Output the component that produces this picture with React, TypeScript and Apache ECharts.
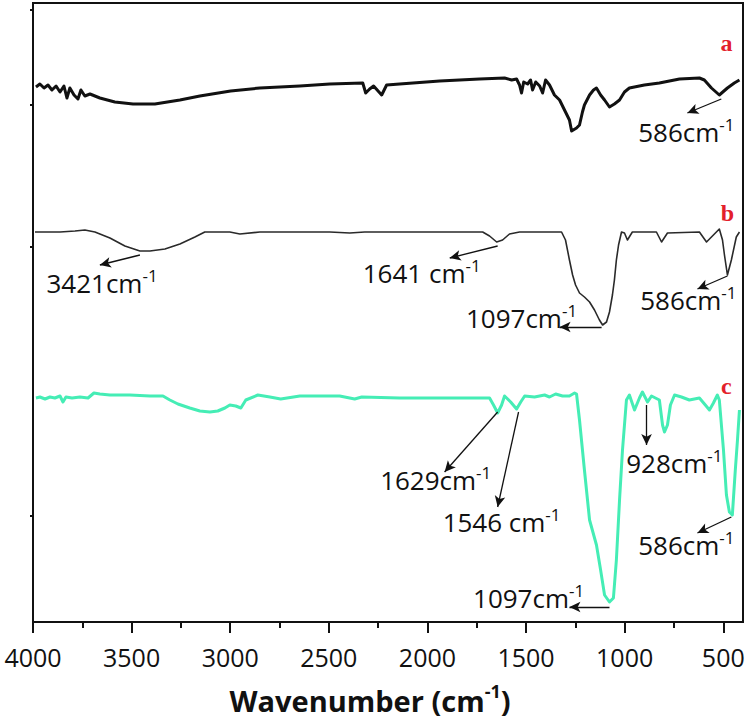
import React, { useEffect, useRef } from "react";
import * as echarts from "echarts";

const FONT = '"Open Sans", "Noto Sans", sans-serif';

// x-axis tick values (wavenumber, cm-1)
const majorTicks = [500, 1000, 1500, 2000, 2500, 3000, 3500, 4000];
const minorTicks = [750, 1250, 1750, 2250, 2750, 3250, 3750];
// y-axis (offset transmittance, a.u.) tick marks, no labels
const yTicks = [106, 375, 517, 612];

// spectrum a: [wavenumber, offset transmittance]
const curveA: [number, number][] = [
  [3985, 535], [3965, 538], [3944, 534], [3924, 537], [3904, 532], [3883, 536], [3863, 530],
  [3843, 536], [3828, 524], [3813, 534], [3792, 527], [3772, 523], [3757, 532], [3737, 526],
  [3711, 528], [3661, 524], [3585, 520], [3493, 518], [3382, 518], [3255, 522], [3154, 526],
  [2998, 531], [2850, 534], [2647, 536], [2495, 538], [2328, 539], [2313, 529], [2293, 533],
  [2273, 536], [2232, 527], [2207, 537], [2141, 538], [1938, 541], [1736, 543], [1609, 544],
  [1573, 542], [1548, 543], [1533, 537], [1523, 529], [1512, 540], [1492, 538], [1477, 542],
  [1467, 532], [1451, 540], [1431, 536], [1416, 529], [1401, 542], [1381, 537], [1356, 527],
  [1330, 522], [1300, 510], [1280, 502], [1269, 491], [1244, 494], [1229, 497], [1214, 510],
  [1204, 517], [1178, 527], [1158, 532], [1143, 534], [1122, 527], [1102, 522], [1077, 515],
  [1052, 518], [1026, 522], [1001, 530], [976, 534], [900, 537], [824, 539], [722, 543],
  [621, 544], [596, 542], [560, 534], [520, 527], [479, 534], [444, 539], [418, 542],
];

// spectrum b
const curveB: [number, number][] = [
  [3990, 390], [3863, 390], [3787, 391], [3737, 392], [3686, 390], [3610, 384], [3534, 376],
  [3458, 371], [3407, 371], [3331, 373], [3255, 378], [3179, 385], [3129, 390], [3002, 390],
  [2951, 388], [2850, 390], [2495, 390], [2394, 389], [2318, 390], [2141, 390], [1720, 390],
  [1685, 386], [1649, 380], [1619, 382], [1584, 388], [1533, 390], [1320, 390], [1300, 382],
  [1280, 362], [1264, 347], [1249, 337], [1229, 329], [1204, 325], [1178, 320], [1153, 312],
  [1128, 302], [1112, 297], [1092, 300], [1077, 310], [1062, 327], [1052, 342], [1042, 362],
  [1031, 377], [1016, 390], [1001, 389], [986, 382], [961, 390], [839, 390], [813, 380],
  [783, 389], [621, 390], [585, 380], [545, 388], [520, 393], [504, 382], [494, 367],
  [479, 347], [459, 362], [434, 385], [418, 390],
];

// spectrum c
const curveC: [number, number][] = [
  [3985, 224], [3965, 225], [3939, 223], [3914, 225], [3889, 224], [3863, 226], [3848, 220],
  [3833, 225], [3802, 224], [3762, 225], [3721, 224], [3691, 229], [3661, 228], [3610, 227],
  [3509, 227], [3407, 226], [3341, 226], [3306, 222], [3265, 218], [3205, 214], [3154, 211],
  [3103, 210], [3063, 211], [3027, 214], [3002, 217], [2972, 216], [2946, 214], [2921, 222],
  [2860, 227], [2799, 225], [2744, 223], [2647, 226], [2546, 226], [2445, 226], [2369, 223],
  [2333, 225], [2141, 224], [1685, 224], [1665, 217], [1644, 209], [1624, 217], [1609, 226],
  [1578, 220], [1548, 213], [1527, 220], [1507, 226], [1457, 225], [1406, 227], [1381, 225],
  [1350, 228], [1315, 226], [1280, 226], [1254, 229], [1244, 228], [1229, 202], [1204, 152],
  [1178, 102], [1143, 77], [1122, 52], [1102, 27], [1077, 20], [1057, 24], [1042, 62],
  [1026, 122], [1011, 172], [991, 222], [976, 227], [950, 212], [925, 224], [910, 230],
  [884, 220], [864, 226], [824, 222], [808, 197], [798, 190], [783, 197], [768, 217],
  [747, 227], [712, 225], [672, 222], [621, 224], [591, 217], [570, 212], [550, 219],
  [530, 227], [520, 222], [499, 172], [484, 127], [469, 110], [454, 107], [439, 152],
  [428, 182], [418, 212],
];

// peak annotations: label, label anchor, arrow start, arrow end (data units)
type Ann = { text: string; at: [number, number]; from: [number, number]; to: [number, number] };
const annA: Ann[] = [
  { text: "586cm", at: [687, 490], from: [510, 523], to: [682, 509] },
];
const annB: Ann[] = [
  { text: "3421cm", at: [3650, 339], from: [3458, 367], to: [3661, 357] },
  { text: "1641 cm", at: [2029, 349], from: [1644, 376], to: [1887, 364] },
  { text: "1097cm", at: [1523, 304], from: [1117, 295], to: [1330, 295] },
  { text: "586cm", at: [677, 322], from: [479, 346], to: [631, 333] },
];
const annC: Ann[] = [
  { text: "1629cm", at: [1958, 142], from: [1644, 210], to: [1913, 150] },
  { text: "1546 cm", at: [1624, 100], from: [1538, 210], to: [1644, 115] },
  { text: "928cm", at: [748, 159], from: [889, 217], to: [889, 177] },
  { text: "586cm", at: [687, 77], from: [459, 105], to: [631, 89] },
  { text: "1097cm", at: [1487, 24], from: [1077, 15], to: [1280, 15] },
];
const seriesLetters: { name: string; at: [number, number] }[] = [
  { name: "a", at: [484, 579] },
  { name: "b", at: [479, 409] },
  { name: "c", at: [484, 236] },
];

const rich = {
  m: { fontFamily: FONT, fontSize: 26, color: "#111", lineHeight: 32 },
  s: { fontFamily: FONT, fontSize: 17, color: "#111", lineHeight: 18, verticalAlign: "top" as const },
};

function marks(anns: Ann[], letter?: { name: string; at: [number, number] }) {
  const pts: any[] = anns.map((a) => ({
    coord: a.at,
    name: `{m|${a.text}}{s|-1}`,
  }));
  if (letter) {
    pts.push({
      coord: letter.at,
      name: letter.name,
      label: {
        formatter: letter.name,
        fontFamily: '"Liberation Serif", serif',
        fontSize: 24,
        fontWeight: "bold",
        color: "#e3202b",
      },
    });
  }
  return {
    markPoint: {
      silent: true,
      symbol: "circle",
      symbolSize: 1,
      itemStyle: { color: "rgba(0,0,0,0)" },
      label: { show: true, position: "inside", formatter: (p: any) => p.name, rich },
      data: pts,
    },
    markLine: {
      silent: true,
      symbol: ["none", "arrow"],
      symbolSize: [8, 11],
      lineStyle: { color: "#111", width: 1.3, type: "solid" },
      label: { show: false },
      data: anns.map((a) => [{ coord: a.from }, { coord: a.to }]),
    },
  };
}

export default function App() {
  const ref = useRef<HTMLDivElement>(null);
  useEffect(() => {
    if (!ref.current) return;
    const chart = echarts.init(ref.current, null, { renderer: "svg" });
    const xBase = {
      type: "value" as const,
      min: 400,
      max: 4000,
      inverse: true,
      gridIndex: 0,
      position: "bottom" as const,
      splitLine: { show: false },
    };
    chart.setOption({
      animation: false,
      backgroundColor: "#fff",
      grid: {
        left: 33,
        right: 13,
        top: 3,
        bottom: 99,
        show: true,
        borderColor: "#111",
        borderWidth: 2,
        containLabel: false,
      },
      xAxis: [
        {
          ...xBase,
          axisLine: { show: true, lineStyle: { color: "#111", width: 2 } },
          axisTick: { show: true, customValues: majorTicks, length: 11, lineStyle: { color: "#111", width: 2 } },
          axisLabel: {
            show: true,
            customValues: majorTicks,
            margin: 20,
            formatter: (v: number) => String(v),
            fontFamily: FONT,
            fontSize: 25,
            lineHeight: 30,
            verticalAlign: "top",
            color: "#111",
          },
        },
        {
          ...xBase,
          axisLine: { show: false },
          axisTick: { show: true, customValues: minorTicks, length: 6, lineStyle: { color: "#111", width: 2 } },
          axisLabel: { show: false },
        },
      ],
      yAxis: {
        type: "value",
        min: 0,
        max: 619,
        axisLine: { show: true, lineStyle: { color: "#111", width: 2 } },
        axisTick: { show: true, customValues: yTicks, length: 3, lineStyle: { color: "#111", width: 2 } },
        axisLabel: { show: false },
        splitLine: { show: false },
      },
      graphic: [
        {
          type: "text",
          x: 370,
          y: 700,
          style: {
            text: "{t|Wavenumber (cm}{s|-1}{t|)}",
            align: "center",
            verticalAlign: "middle",
            rich: {
              t: { fontFamily: FONT, fontSize: 29, fontWeight: "bold", fill: "#111", lineHeight: 36 },
              s: { fontFamily: FONT, fontSize: 18, fontWeight: "bold", fill: "#111", lineHeight: 20, verticalAlign: "top" },
            },
          },
        },
      ],
      series: [
        {
          type: "line",
          name: "a",
          data: curveA,
          showSymbol: false,
          lineStyle: { color: "#111", width: 3, join: "round" },
          z: 3,
          ...marks(annA, seriesLetters[0]),
        },
        {
          type: "line",
          name: "b",
          data: curveB,
          showSymbol: false,
          lineStyle: { color: "#2a2a2a", width: 1.6, join: "round" },
          z: 3,
          ...marks(annB, seriesLetters[1]),
        },
        {
          type: "line",
          name: "c",
          data: curveC,
          showSymbol: false,
          lineStyle: { color: "#45edb5", width: 3, join: "round" },
          z: 3,
          ...marks(annC, seriesLetters[2]),
        },
      ],
    });
    return () => chart.dispose();
  }, []);
  return (
    <div
      ref={ref}
      style={{ position: "fixed", left: 0, top: 0, width: 756, height: 721, background: "#fff" }}
    />
  );
}
